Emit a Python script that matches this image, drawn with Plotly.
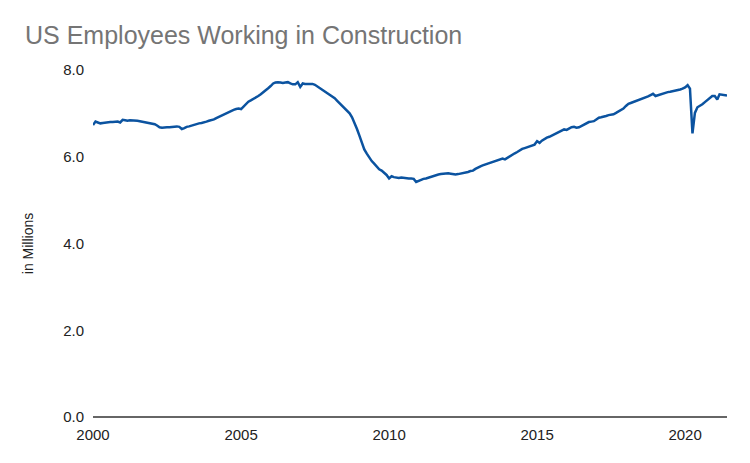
import plotly.graph_objects as go
import pandas as pd

# Monthly values (millions), Jan 2000 - Jun 2021
y2000 = [6.73, 6.81, 6.79, 6.77, 6.78, 6.79, 6.79, 6.80, 6.80, 6.81, 6.81, 6.79]
y2001 = [6.85, 6.84, 6.83, 6.84, 6.84, 6.84, 6.83, 6.82, 6.81, 6.80, 6.79, 6.78]
y2002 = [6.76, 6.75, 6.72, 6.68, 6.67, 6.68, 6.68, 6.68, 6.69, 6.69, 6.70, 6.69]
y2003 = [6.64, 6.66, 6.69, 6.70, 6.72, 6.74, 6.76, 6.77, 6.78, 6.79, 6.81, 6.83]
y2004 = [6.84, 6.86, 6.89, 6.92, 6.95, 6.97, 6.99, 7.02, 7.05, 7.08, 7.10, 7.11]
y2005 = [7.10, 7.16, 7.22, 7.27, 7.30, 7.33, 7.37, 7.40, 7.44, 7.48, 7.52, 7.58]
y2006 = [7.63, 7.69, 7.71, 7.72, 7.71, 7.70, 7.71, 7.72, 7.69, 7.67, 7.67, 7.72]
y2007 = [7.61, 7.69, 7.68, 7.68, 7.67, 7.68, 7.66, 7.62, 7.58, 7.55, 7.51, 7.48]
y2008 = [7.44, 7.40, 7.35, 7.29, 7.23, 7.17, 7.12, 7.06, 7.00, 6.91, 6.78, 6.64]
y2009 = [6.48, 6.32, 6.17, 6.07, 5.98, 5.90, 5.84, 5.77, 5.71, 5.68, 5.64, 5.58]
y2010 = [5.50, 5.55, 5.53, 5.52, 5.51, 5.52, 5.51, 5.51, 5.50, 5.50, 5.49, 5.42]
y2011 = [5.45, 5.47, 5.49, 5.50, 5.52, 5.54, 5.56, 5.57, 5.59, 5.60, 5.61, 5.62]
y2012 = [5.62, 5.61, 5.60, 5.59, 5.60, 5.61, 5.62, 5.63, 5.65, 5.67, 5.68, 5.72]
y2013 = [5.76, 5.78, 5.80, 5.82, 5.84, 5.86, 5.88, 5.90, 5.92, 5.94, 5.96, 5.94]
y2014 = [5.98, 6.01, 6.05, 6.08, 6.11, 6.15, 6.18, 6.20, 6.22, 6.24, 6.26, 6.28]
y2015 = [6.36, 6.32, 6.37, 6.41, 6.44, 6.46, 6.49, 6.51, 6.54, 6.57, 6.60, 6.63]
y2016 = [6.62, 6.66, 6.68, 6.69, 6.67, 6.68, 6.71, 6.74, 6.77, 6.80, 6.81, 6.82]
y2017 = [6.86, 6.90, 6.91, 6.92, 6.94, 6.96, 6.97, 6.98, 7.01, 7.04, 7.07, 7.11]
y2018 = [7.17, 7.22, 7.24, 7.26, 7.28, 7.31, 7.33, 7.35, 7.37, 7.39, 7.42, 7.45]
y2019 = [7.40, 7.42, 7.44, 7.46, 7.48, 7.49, 7.50, 7.51, 7.52, 7.53, 7.55, 7.57]
y2020 = [7.60, 7.65, 7.57, 6.54, 7.01, 7.14, 7.17, 7.21, 7.26, 7.30, 7.34, 7.40]
y2021 = [7.40, 7.32, 7.44, 7.43, 7.42, 7.41]

values = (y2000 + y2001 + y2002 + y2003 + y2004 + y2005 + y2006 + y2007 + y2008
          + y2009 + y2010 + y2011 + y2012 + y2013 + y2014 + y2015 + y2016
          + y2017 + y2018 + y2019 + y2020 + y2021)
dates = pd.date_range("2000-01-01", periods=len(values), freq="MS")

y_ticks = [0, 2, 4, 6, 8]
x_ticks = ["2000-01-01", "2005-01-01", "2010-01-01", "2015-01-01", "2020-01-01"]
x_labels = ["2000", "2005", "2010", "2015", "2020"]

FONT = "Arial, Liberation Sans, sans-serif"

fig = go.Figure()
fig.add_trace(go.Scatter(
    x=dates, y=values, mode="lines",
    line=dict(color="#0b53a0", width=2.5),
    showlegend=False,
))

fig.update_layout(
    width=750, height=463,
    paper_bgcolor="white", plot_bgcolor="white",
    margin=dict(l=85, r=31, t=62, b=54),
    font=dict(family=FONT, color="#222222", size=14),
    title=dict(
        text="US Employees Working in Construction",
        font=dict(family=FONT, size=25, color="#757575"),
        x=17 / 750, xanchor="left", y=1 - 27 / 463, yanchor="middle",
    ),
    xaxis=dict(
        range=[dates[0], dates[-1]],
        tickvals=x_ticks, ticktext=x_labels,
        showgrid=False, zeroline=False,
        showline=False, ticks="",
        ticklabelstandoff=7,
        tickfont=dict(family=FONT, size=15, color="#222222"),
    ),
    yaxis=dict(
        range=[0, 8], tickvals=y_ticks, tickformat=".1f",
        showgrid=False, zeroline=True, zerolinecolor="#666666", zerolinewidth=1.5,
        showline=False, ticks="",
        ticklabelstandoff=8,
        tickfont=dict(family=FONT, size=15, color="#222222"),
        title=dict(text="in Millions", font=dict(family=FONT, size=14, color="#222222"), standoff=26),
    ),
)

fig.write_html("out.html")
